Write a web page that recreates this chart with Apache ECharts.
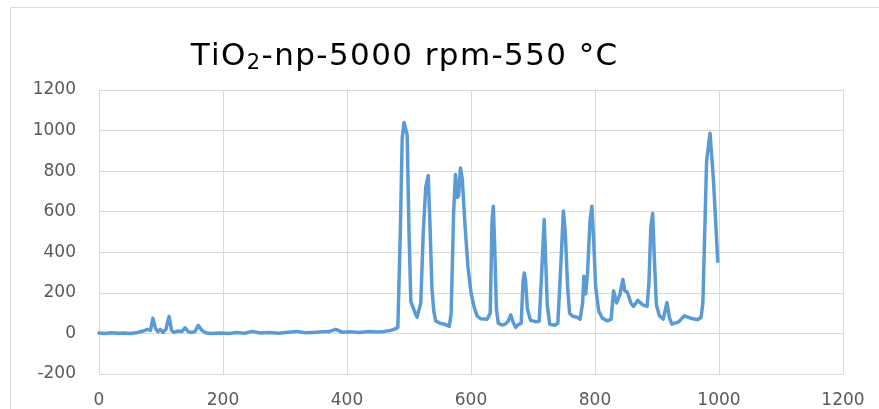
<!DOCTYPE html>
<html>
<head>
<meta charset="utf-8">
<script src="https://cdn.jsdelivr.net/npm/echarts@6/dist/echarts.min.js"></script>
<style>
  html, body { margin: 0; padding: 0; background: #ffffff; }
  #chart { width: 879px; height: 409px; }
</style>
</head>
<body>
<div id="chart"></div>
<script>
// Scan position (x) and measured intensity (y)
const scanX = [
  0, 10, 20, 30, 40, 50, 60, 66, 72, 78, 83, 87, 91, 95, 99, 103, 108, 113, 117, 121,
  128, 134, 139, 144, 150, 155, 160, 166, 172, 180, 195, 210, 222, 235, 247, 260, 275, 290, 305, 319,
  332, 345, 360, 372, 382, 392, 405, 420, 435, 450, 460, 470, 476,
  482, 486, 489, 492, 495, 497, 500, 503, 507, 510, 513, 516, 519, 523, 527, 531, 534,
  537, 540, 543, 550, 558, 565, 568, 572, 575, 578, 580, 583, 586, 590, 595, 600, 605, 610, 616, 626,
  631, 634, 636, 638, 641, 644, 650, 655, 660, 664, 668, 672, 677, 681, 684, 686, 688, 691, 696, 704,
  710, 714, 718, 720, 723, 727, 735, 740, 744, 749, 752, 756, 759, 764, 771, 776, 780, 782, 785, 788,
  792, 795, 798, 801, 806, 812, 820, 826, 830, 835, 840, 845, 848, 852, 858, 862, 869, 877, 884, 887,
  890, 893, 896, 899, 904, 910, 916, 920, 924, 935, 944, 954, 965, 971, 974, 977, 980, 985.5, 991, 998
];
const intensity = [
  2, 0, 3, 1, 2, 0, 3, 8, 12, 20, 15, 75, 25, 8, 20, 5, 20, 84, 15, 5,
  12, 10, 28, 8, 5, 10, 40, 15, 3, 0, 2, 0, 5, 1, 10, 2, 4, 1, 6, 10,
  3, 5, 8, 10, 20, 6, 8, 5, 9, 7, 10, 15, 20,
  30, 500, 960, 1040, 1045, 980, 500, 157, 125, 100, 80, 78, 150, 500, 720, 778, 521,
  220, 110, 62, 50, 45, 35, 100, 600, 784, 670, 680, 815, 760, 550, 330, 200, 130, 85, 72, 70,
  100, 560, 627, 450, 120, 50, 42, 45, 60, 92, 55, 30, 45, 50, 260, 298, 260, 120, 65, 58,
  60, 300, 562, 400, 140, 45, 40, 50, 280, 603, 500, 220, 100, 85, 80, 70, 150, 282, 195, 300,
  560, 627, 450, 230, 110, 75, 62, 70, 210, 150, 190, 266, 210, 204, 150, 133, 163, 141, 133, 250,
  520, 591, 350, 141, 86, 71, 152, 78, 46, 57, 87, 75, 68, 78, 150, 500, 850, 987, 759, 355
];
const xTicks = [0, 200, 400, 600, 800, 1000, 1200];
const yTicks = [-200, 0, 200, 400, 600, 800, 1000, 1200];

// Title pieces: chemical formula with subscript, then sample conditions
const titleHead = 'TiO';
const titleSub = '2';
const titleTail = '-np-5000 rpm-550 °C';

const points = scanX.map((x, i) => [x, intensity[i]]);

// Each character gets its own rich token so the title can be spaced out a little
const spaced = (s, style) => Array.from(s).map(ch => '{' + style + '|' + ch + '}').join('');
const titleText = spaced(titleHead, 'a') + spaced(titleSub, 's') + spaced(titleTail, 'a');

const chart = echarts.init(document.getElementById('chart'), null, { renderer: 'canvas' });
const labelFont = 'DejaVu Sans';
const plainNumber = (v) => String(v);

chart.setOption({
  animation: false,
  backgroundColor: '#ffffff',
  title: {
    left: 185,
    top: 34,
    text: titleText,
    textStyle: {
      rich: {
        a: { fontFamily: labelFont, fontSize: 31, fontWeight: 'normal', color: '#000000', padding: [0, 0.7, 0, 0.7] },
        s: { fontFamily: labelFont, fontSize: 21, fontWeight: 'normal', color: '#000000', padding: [14, 0.7, 0, 0.7] }
      }
    }
  },
  graphic: [{
    type: 'rect',
    silent: true,
    shape: { x: 10.5, y: 7.5, width: 900, height: 500 },
    style: { fill: 'none', stroke: '#d9d9d9', lineWidth: 1 }
  }],
  grid: { left: 99, right: 36, top: 90, bottom: 24, containLabel: false },
  xAxis: {
    type: 'value',
    min: xTicks[0],
    max: xTicks[xTicks.length - 1],
    interval: xTicks[1] - xTicks[0],
    axisLine: { show: true, onZero: true, lineStyle: { color: '#d9d9d9', width: 1 } },
    axisTick: { show: false },
    axisLabel: { color: '#595959', fontFamily: labelFont, fontSize: 17, margin: 18, formatter: plainNumber },
    splitLine: { show: true, lineStyle: { color: '#d9d9d9', width: 1 } }
  },
  yAxis: {
    type: 'value',
    min: yTicks[0],
    max: yTicks[yTicks.length - 1],
    interval: yTicks[1] - yTicks[0],
    axisLine: { show: false },
    axisTick: { show: false },
    axisLabel: { color: '#595959', fontFamily: labelFont, fontSize: 17, margin: 23, formatter: plainNumber },
    splitLine: { show: true, lineStyle: { color: '#d9d9d9', width: 1 } }
  },
  series: [{
    type: 'line',
    data: points,
    showSymbol: false,
    symbol: 'none',
    lineStyle: { color: '#5b9bd5', width: 3.5, join: 'round', cap: 'round' },
    z: 3
  }]
});
</script>
</body>
</html>
